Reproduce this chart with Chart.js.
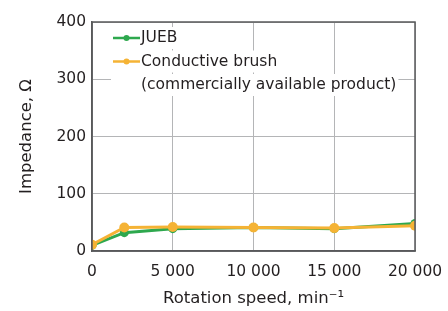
<!DOCTYPE html>
<html>
<head>
<meta charset="utf-8">
<script src="https://cdn.jsdelivr.net/npm/chart.js@4"></script>
<style>
  html, body { margin: 0; padding: 0; background: #fff; }
  #wrap { width: 448px; height: 311px; }
</style>
</head>
<body>
<div id="wrap"><canvas id="myChart" width="448" height="311"></canvas></div>
<script>
// rotation speed, min-1
const speeds = [0, 2000, 5000, 10000, 15000, 20000];
// impedance, ohm
const jueb = [10, 32, 39, 41, 39, 48];
const brush = [11, 41, 42, 41, 40, 44];

const xTicks = [0, 5000, 10000, 15000, 20000];
const yTicks = [0, 100, 200, 300, 400];

const green = '#2ea84e';
const orange = '#f5b335';
const axisGray = '#58595b';
const gridGray = '#b4b5b7';
const textColor = '#231f20';
const fontFamily = '"DejaVu Sans", sans-serif';

function fmt(v) {
  // space as thousands separator like the figure
  return String(v).replace(/\B(?=(\d{3})+(?!\d))/g, ' ');
}

// legend drawn inside the plot, text on white so grid lines break behind it
const insideLegend = {
  id: 'insideLegend',
  afterDraw(chart) {
    const c = chart.ctx;
    const a = chart.chartArea;
    const items = [
      { color: green, lines: ['JUEB'] },
      { color: orange, lines: ['Conductive brush', '(commercially available product)'] }
    ];
    c.save();
    c.font = '15.5px ' + fontFamily;
    c.textBaseline = 'middle';
    let y = 38;
    const x0 = 113;
    items.forEach(function(it) {
      it.lines.forEach(function(t, i) {
        const w = c.measureText(t).width;
        c.fillStyle = '#fff';
        c.fillRect(x0 - 2, y - 11, w + 32, 22);
        c.fillStyle = textColor;
        c.fillText(t, x0 + 28, y);
        if (i === 0) {
          c.strokeStyle = it.color;
          c.lineWidth = 2.5;
          c.beginPath();
          c.moveTo(x0, y);
          c.lineTo(x0 + 27, y);
          c.stroke();
          c.fillStyle = it.color;
          c.beginPath();
          c.arc(x0 + 13.5, y, 3, 0, Math.PI * 2);
          c.fill();
        }
        y += 23.5;
      });
    });
    // frame around the plot
    c.strokeStyle = axisGray;
    c.lineWidth = 1.5;
    c.strokeRect(a.left, a.top, a.right - a.left, a.bottom - a.top);
    c.restore();
  }
};

const ctx = document.getElementById('myChart').getContext('2d');
const myChart = new Chart(ctx, {
  type: 'line',
  data: {
    datasets: [{
      label: 'JUEB',
      data: speeds.map(function(s, i) { return { x: s, y: jueb[i] }; }),
      borderColor: green,
      backgroundColor: green,
      borderWidth: 3,
      pointRadius: 4.5,
      pointBorderWidth: 0,
      tension: 0,
      order: 1
    }, {
      label: 'Conductive brush (commercially available product)',
      data: speeds.map(function(s, i) { return { x: s, y: brush[i] }; }),
      borderColor: orange,
      backgroundColor: orange,
      borderWidth: 3,
      pointRadius: 5,
      pointBorderWidth: 0,
      tension: 0,
      order: 0
    }]
  },
  options: {
    responsive: false,
    animation: false,
    events: [],
    layout: { padding: { left: 0, right: 33, top: 22, bottom: 0 } },
    plugins: {
      legend: { display: false },
      tooltip: { enabled: false }
    },
    scales: {
      x: {
        type: 'linear',
        min: 0,
        max: 20000,
        afterBuildTicks: function(scale) {
          scale.ticks = xTicks.map(function(v) { return { value: v }; });
        },
        afterFit: function(scale) {
          scale.height = 60;
          scale.paddingLeft = 0;
          scale.paddingRight = 0;
        },
        ticks: {
          color: textColor,
          font: { family: fontFamily, size: 15.5 },
          padding: 12,
          maxRotation: 0,
          callback: function(v) { return fmt(v); }
        },
        grid: { color: gridGray, lineWidth: 1, drawTicks: false },
        border: { color: axisGray, width: 1.5 },
        title: {
          display: true,
          text: 'Rotation speed, min\u207B\u00B9',
          color: textColor,
          font: { family: fontFamily, size: 16.5 },
          padding: { top: 0, bottom: 2 }
        }
      },
      y: {
        min: 0,
        max: 400,
        afterBuildTicks: function(scale) {
          scale.ticks = yTicks.map(function(v) { return { value: v }; });
        },
        afterFit: function(scale) {
          scale.width = 92;
          scale.paddingTop = 0;
          scale.paddingBottom = 0;
        },
        ticks: {
          color: textColor,
          font: { family: fontFamily, size: 15.5 },
          padding: 6
        },
        grid: { color: gridGray, lineWidth: 1, drawTicks: false },
        border: { color: axisGray, width: 1.5 },
        title: {
          display: true,
          text: 'Impedance, \u03A9',
          color: textColor,
          font: { family: fontFamily, size: 16.5 },
          padding: { top: 17, bottom: 0 }
        }
      }
    }
  },
  plugins: [insideLegend]
});
</script>
</body>
</html>
